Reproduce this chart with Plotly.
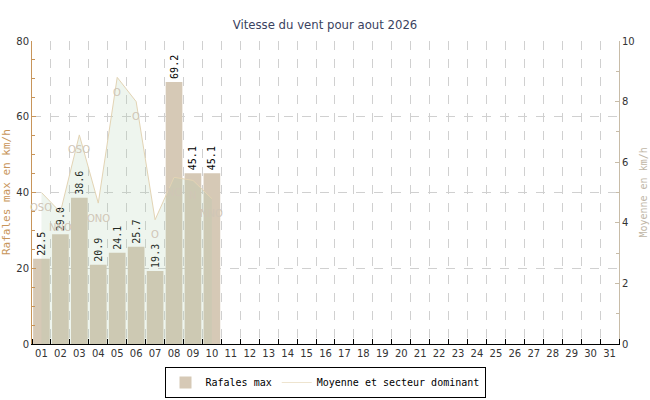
import plotly.graph_objects as go

days = list(range(1, 32))
day_labels = [f"{d:02d}" for d in days]
gust_days = [1, 2, 3, 4, 5, 6, 7, 8, 9, 10]
gust_max = [22.5, 29.0, 38.6, 20.9, 24.1, 25.7, 19.3, 69.2, 45.1, 45.1]
avg_wind = [5.0, 4.35, 6.9, 4.65, 8.8, 8.0, 4.1, 5.5, 5.4, 4.8]
directions = ["OSO", "NNO", "OSO", "ONO", "O", "O", "O", "NO", "N", "NNO"]

mono = "DejaVu Sans Mono"
fig = go.Figure()
fig.add_trace(go.Bar(
    x=gust_days, y=gust_max, name="Rafales max",
    marker=dict(color="#d6c9b6", line=dict(width=0)),
    width=0.88,
    text=[f"{v:.1f}" for v in gust_max], textposition="outside", textangle=-90,
    constraintext="none",
    textfont=dict(family=mono, size=10, color="#000000"),
    cliponaxis=False, yaxis="y",
))
fig.add_trace(go.Scatter(
    x=gust_days, y=avg_wind, yaxis="y2", mode="lines",
    fill="tozeroy", fillcolor="rgba(170,205,170,0.2)",
    line=dict(color="#e3d4b4", width=1),
    showlegend=False, hoverinfo="skip",
))
fig.add_trace(go.Scatter(
    x=[None], y=[None], mode="lines", name="Moyenne et secteur dominant",
    line=dict(color="#eee4cf", width=1), yaxis="y2",
))

annotations = [
    dict(text=d, x=x, y=v, xref="x", yref="y2", yshift=-15, showarrow=False,
         font=dict(family="DejaVu Sans", size=10, color="#d0c6b6"))
    for x, v, d in zip(gust_days, avg_wind, directions)
]
annotations += [
    dict(text="Rafales max en km/h", textangle=-90, x=-0.0434, y=0.5,
         xanchor="center", yanchor="middle",
         xref="paper", yref="paper", showarrow=False,
         font=dict(family=mono, size=11, color="#c8955a")),
    dict(text="Moyenne en km/h", textangle=-90, x=1.041, y=0.5,
         xanchor="center", yanchor="middle",
         xref="paper", yref="paper", showarrow=False,
         font=dict(family=mono, size=10, color="#c0b6a6")),
]

fig.update_layout(
    width=650, height=400,
    margin=dict(l=32, r=31, t=41, b=56, autoexpand=False),
    plot_bgcolor="white", paper_bgcolor="white",
    title=dict(text="Vitesse du vent pour aout 2026", x=0.5, xanchor="center",
               y=0.94, yanchor="middle",
               font=dict(family="DejaVu Sans Condensed, DejaVu Sans", size=13, color="#3a4260")),
    xaxis=dict(
        range=[0.5, 31.5], tickvals=days, ticktext=day_labels, ticks="",
        showgrid=False, zeroline=False, automargin=False,
        showline=True, linecolor="#000000", linewidth=1,
        tickfont=dict(family="DejaVu Sans", size=10, color="#333333"),
        minor=dict(tick0=0.5, dtick=1, ticks="inside", ticklen=5, tickcolor="#000000",
                   showgrid=True, gridcolor="#d0d0d0", griddash="dash", gridwidth=1),
    ),
    yaxis=dict(
        range=[0, 80], dtick=20, ticks="inside", ticklen=4, tickcolor="#c8955a",
        showline=True, linecolor="#c8955a", linewidth=1, automargin=False,
        showgrid=True, gridcolor="#d0d0d0", griddash="dash", zeroline=False,
        tickfont=dict(family="DejaVu Sans", size=10, color="#333333"),
        minor=dict(dtick=5, ticks="inside", ticklen=3, tickcolor="#c8955a", showgrid=False),
    ),
    yaxis2=dict(
        range=[0, 10], dtick=2, overlaying="y", side="right",
        ticks="inside", ticklen=4, tickcolor="#c8bca8", automargin=False,
        showline=True, linecolor="#c8bca8", linewidth=1,
        showgrid=False, zeroline=False,
        tickfont=dict(family="DejaVu Sans", size=10, color="#333333"),
        minor=dict(dtick=1, ticks="inside", ticklen=3, tickcolor="#c8bca8", showgrid=False),
    ),
    legend=dict(orientation="h", x=0.5, xanchor="center", xref="container",
                y=0.0825, yanchor="top", yref="container",
                bordercolor="#000000", borderwidth=1, bgcolor="white",
                font=dict(family=mono, size=10, color="#000000"),
                itemwidth=30, tracegroupgap=0),
    annotations=annotations,
)
fig.write_html("out.html", config={"displayModeBar": False},
               post_script="document.body.style.margin='0px';")
